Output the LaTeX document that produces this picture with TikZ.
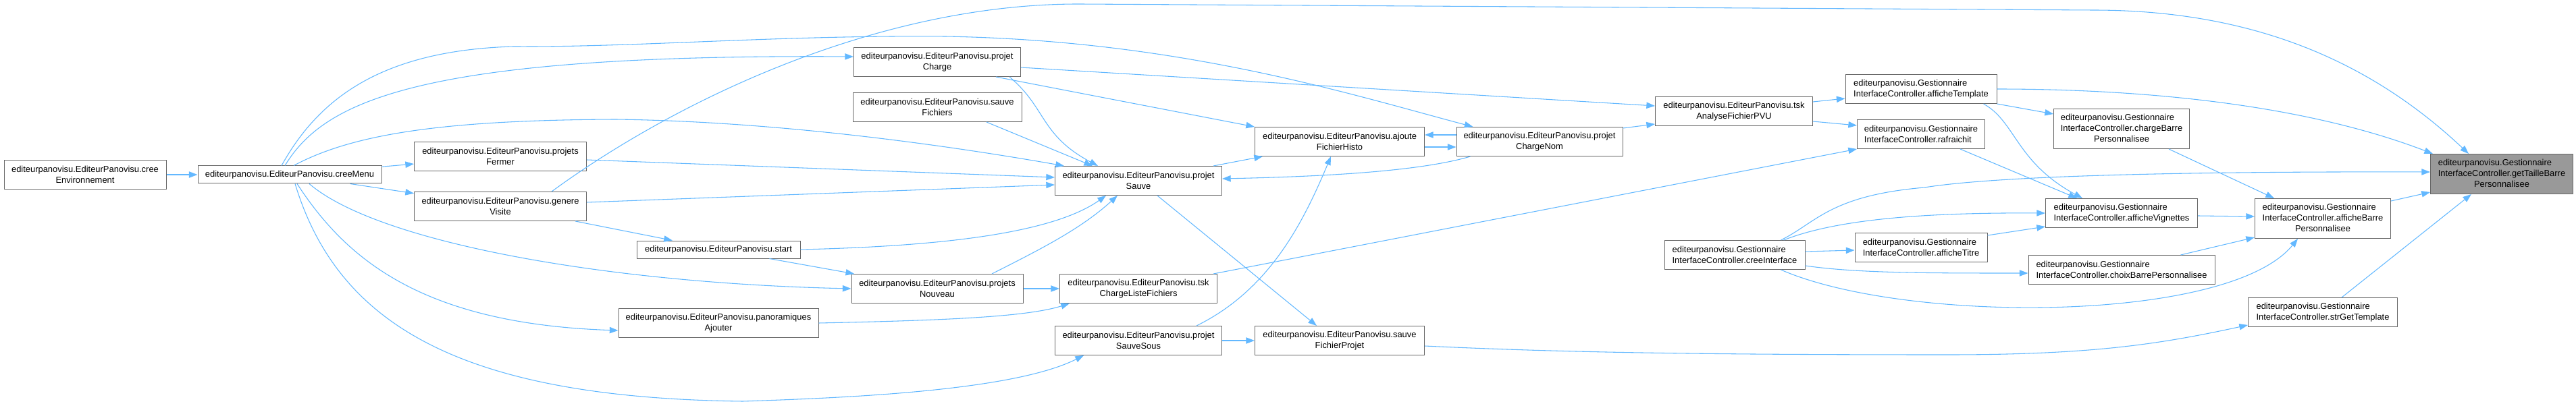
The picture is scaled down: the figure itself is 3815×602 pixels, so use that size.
\documentclass[tikz,border=0pt]{standalone}
\usepackage{fontspec}
\setmainfont{Liberation Sans}
\usetikzlibrary{arrows.meta}
\definecolor{edgeblue}{HTML}{63B8FF}
\definecolor{boxline}{HTML}{666666}
\newcommand{\threeline}[3]{\begin{tabular}{@{}l@{}}#1\\#2\\\multicolumn{1}{@{}c@{}}{#3}\end{tabular}}

\begin{document}
\begin{tikzpicture}[x=0.75pt,y=-0.75pt,
  fn/.style={draw=boxline,fill=white,line width=0.75pt,inner sep=2pt,minimum height=32.25pt,align=center,font=\fontsize{9.7}{12}\selectfont},
  gfn/.style={fn,align=left},
  one/.style={minimum height=19.5pt},
  three/.style={minimum height=44.25pt},
  call/.style={draw=edgeblue,line width=0.8pt,-{Triangle[length=9.5pt,width=7pt]}}]
\useasboundingbox (0,0) rectangle (3815,602);

% EditeurPanovisu
\node[fn,minimum width=180pt] (env) at (126,259) {editeurpanovisu.EditeurPanovisu.cree\\Environnement};
\node[fn,one,minimum width=204pt] (menu) at (429,259) {editeurpanovisu.EditeurPanovisu.creeMenu};
\node[fn,minimum width=191.25pt] (fermer) at (741,232) {editeurpanovisu.EditeurPanovisu.projets\\Fermer};
\node[fn,minimum width=191.25pt] (visite) at (741,306) {editeurpanovisu.EditeurPanovisu.genere\\Visite};
\node[fn,one,minimum width=181.5pt] (start) at (1064,370) {editeurpanovisu.EditeurPanovisu.start};
\node[fn,minimum width=222pt] (ajouter) at (1064,479) {editeurpanovisu.EditeurPanovisu.panoramiques\\Ajouter};
\node[fn,minimum width=185.25pt] (charge) at (1388,92) {editeurpanovisu.EditeurPanovisu.projet\\Charge};
\node[fn,minimum width=187.5pt] (sfichiers) at (1388,159) {editeurpanovisu.EditeurPanovisu.sauve\\Fichiers};
\node[fn,minimum width=190.5pt] (nouveau) at (1388,428) {editeurpanovisu.EditeurPanovisu.projets\\Nouveau};
\node[fn,minimum width=185.25pt] (sauve) at (1686,268) {editeurpanovisu.EditeurPanovisu.projet\\Sauve};
\node[fn,minimum width=174.75pt] (listefich) at (1686,428) {editeurpanovisu.EditeurPanovisu.tsk\\ChargeListeFichiers};
\node[fn,minimum width=185.25pt] (sauvesous) at (1686,505) {editeurpanovisu.EditeurPanovisu.projet\\SauveSous};
\node[fn,minimum width=188.25pt] (histo) at (1984,210) {editeurpanovisu.EditeurPanovisu.ajoute\\FichierHisto};
\node[fn,minimum width=188.25pt] (fichprojet) at (1984,505) {editeurpanovisu.EditeurPanovisu.sauve\\FichierProjet};
\node[fn,minimum width=184.5pt] (chargenom) at (2280,210) {editeurpanovisu.EditeurPanovisu.projet\\ChargeNom};
\node[fn,minimum width=174.75pt] (analyse) at (2568,165) {editeurpanovisu.EditeurPanovisu.tsk\\AnalyseFichierPVU};

% GestionnaireInterfaceController
\node[gfn,minimum width=156pt] (interface) at (2569,378) {editeurpanovisu.Gestionnaire\\InterfaceController.creeInterface};
\node[gfn,minimum width=168pt] (template) at (2845,132) {editeurpanovisu.Gestionnaire\\InterfaceController.afficheTemplate};
\node[gfn,minimum width=141.75pt] (rafraichit) at (2845,199) {editeurpanovisu.Gestionnaire\\InterfaceController.rafraichit};
\node[gfn,minimum width=147pt] (titre) at (2845,367) {editeurpanovisu.Gestionnaire\\InterfaceController.afficheTitre};
\node[fn,three,minimum width=150.75pt] (chargebarre) at (3142,191) {\threeline{editeurpanovisu.Gestionnaire}{InterfaceController.chargeBarre}{Personnalisee}};
\node[gfn,minimum width=168.75pt] (vignettes) at (3142,316) {editeurpanovisu.Gestionnaire\\InterfaceController.afficheVignettes};
\node[gfn,minimum width=207pt] (choix) at (3142,400) {editeurpanovisu.Gestionnaire\\InterfaceController.choixBarrePersonnalisee};
\node[fn,three,minimum width=150.75pt] (affbarre) at (3440,324) {\threeline{editeurpanovisu.Gestionnaire}{InterfaceController.afficheBarre}{Personnalisee}};
\node[gfn,minimum width=165.75pt] (gettemplate) at (3440,463) {editeurpanovisu.Gestionnaire\\InterfaceController.strGetTemplate};
\node[fn,three,fill=black!40,minimum width=158.25pt] (taille) at (3705,258) {\threeline{editeurpanovisu.Gestionnaire}{InterfaceController.getTailleBarre}{Personnalisee}};

% calls
\draw[call] (env) -- (menu);
\draw[call] (menu) -- (fermer);
\draw[call] (menu) -- (visite);
\draw[call] ([xshift=-5.25pt]menu.north) .. controls (480,150) and (620,80) .. ([yshift=6pt]charge.west);
\draw[call] ([xshift=-9pt]menu.north) .. controls (470,150) and (560,75) .. (760,69) .. controls (950,70) and (1150,52) .. (1400,54) .. controls (1750,60) and (2000,140) .. ([xshift=18.75pt]chargenom.north west);
\draw[call] ([xshift=4.5pt]menu.north) .. controls (520,200) and (650,178) .. (912,177) .. controls (1150,180) and (1400,215) .. ([xshift=10.5pt]sauve.north west);
\draw[call] ([xshift=21.75pt]menu.south) .. controls (560,360) and (900,420) .. (nouveau.west);
\draw[call] ([xshift=8.25pt]menu.south) .. controls (510,380) and (620,480) .. ([yshift=-8.25pt]ajouter.west);
\draw[call] ([xshift=6pt]menu.south) .. controls (500,480) and (680,590) .. (1100,595) .. controls (1250,590) and (1500,580) .. ([xshift=32.25pt]sauvesous.south west);
\draw[call] (visite) -- (start);
\draw[call] ([yshift=4.5pt]visite.east) -- ([yshift=-4.5pt]sauve.west);
\draw[call] ([xshift=57pt]visite.north) .. controls (1000,150) and (1300,5) .. (1600,6) -- (3100,15) .. controls (3350,15) and (3520,100) .. ([xshift=42.75pt]taille.north west);
\draw[call] ([yshift=-3.75pt]fermer.east) -- ([yshift=3.75pt]sauve.west);
\draw[call] (start.east) .. controls (1400,365) and (1560,345) .. ([xshift=57pt]sauve.south west);
\draw[call] (start) -- (nouveau);
\draw[call] ([xshift=-27.75pt]charge.south east) -- (histo.north west);
\draw[call] ([xshift=-12.75pt]charge.south east) .. controls (1550,160) and (1540,200) .. ([xshift=48pt]sauve.north west);
\draw[call] ([yshift=-6pt]charge.east) -- ([yshift=6pt]analyse.west);
\draw[call] ([xshift=54.75pt]sfichiers.south) -- ([xshift=42pt]sauve.north west);
\draw[call] ([xshift=-9.75pt]sauve.north east) -- ([xshift=9pt]histo.south west);
\draw[call] ([yshift=7.5pt]chargenom.west) -- ([yshift=7.5pt]histo.east);
\draw[call] ([yshift=-6pt]histo.east) -- ([yshift=-6pt]chargenom.west);
\draw[call] ([xshift=15.75pt]chargenom.south west) .. controls (2100,255) and (1950,262) .. ([yshift=2.25pt]sauve.east);
\draw[call] ([yshift=15pt]chargenom.east) -- ([yshift=2.25pt]analyse.south west);
\draw[call] ([xshift=21pt]sauve.south) -- ([xshift=-25.5pt]fichprojet.north);
\draw[call] ([xshift=60.75pt]nouveau.north) .. controls (1540,370) and (1600,340) .. ([xshift=69.75pt]sauve.south west);
\draw[call] (nouveau.east) -- (listefich.west);
\draw[call] (ajouter.east) .. controls (1400,475) and (1520,470) .. ([xshift=11.25pt]listefich.south west);
\draw[call] ([xshift=-4.5pt]listefich.north east) -- (rafraichit.south west);
\draw[call] ([xshift=-28.5pt]sauvesous.north east) .. controls (1880,430) and (1930,330) .. ([xshift=-9.75pt]histo.south);
\draw[call] (sauvesous.east) -- (fichprojet.west);
\draw[call] ([yshift=-6pt]fichprojet.east) .. controls (2300,522) and (2500,526) .. (2885,526) .. controls (3100,526) and (3200,510) .. ([yshift=-14.25pt]gettemplate.west);
\draw[call] ([yshift=10.5pt]analyse.east) -- ([yshift=-10.5pt]template.west);
\draw[call] ([yshift=-11.25pt]analyse.east) -- ([yshift=9.75pt]rafraichit.west);
\draw[call] (template.east) .. controls (3150,132) and (3400,150) .. ([xshift=3pt]taille.north west);
\draw[call] (template.south east) -- ([yshift=-6pt]chargebarre.north west);
\draw[call] ([xshift=-15pt]template.south east) .. controls (2985,180) and (2985,240) .. ([xshift=41.25pt]vignettes.north west);
\draw[call] ([xshift=43.5pt]rafraichit.south) -- ([xshift=35.25pt]vignettes.north west);
\draw[call] ([xshift=-23.25pt]chargebarre.south east) -- ([xshift=21.75pt]affbarre.north west);
\draw[call] ([yshift=-3pt]vignettes.east) -- ([yshift=2.25pt]affbarre.west);
\draw[call] ([yshift=-3pt]affbarre.north east) -- ([yshift=2.25pt]taille.south west);
\draw[call] ([xshift=21pt]gettemplate.north) -- ([xshift=45.75pt]taille.south west);
\draw[call] ([xshift=-27pt]interface.north east) .. controls (2690,330) and (2710,290) .. (2850,278) .. controls (2950,262) and (3200,254) .. ([yshift=2.25pt]taille.west);
\draw[call] ([xshift=-24pt]interface.north east) .. controls (2720,325) and (2850,315) .. (vignettes.west);
\draw[call] ([yshift=3.75pt]interface.east) -- ([yshift=-3pt]titre.west);
\draw[call] ([yshift=-12pt]interface.east) .. controls (2750,405) and (2850,405) .. ([yshift=-3.75pt]choix.west);
\draw[call] ([xshift=-27pt]interface.south east) .. controls (2820,480) and (3300,480) .. ([xshift=48pt]affbarre.south west);
\draw[call] ([yshift=-3pt]titre.north east) -- ([yshift=1.5pt]vignettes.south west);
\draw[call] ([xshift=-38.25pt]choix.north east) -- ([yshift=1.5pt]affbarre.south west);
\end{tikzpicture}
\end{document}
